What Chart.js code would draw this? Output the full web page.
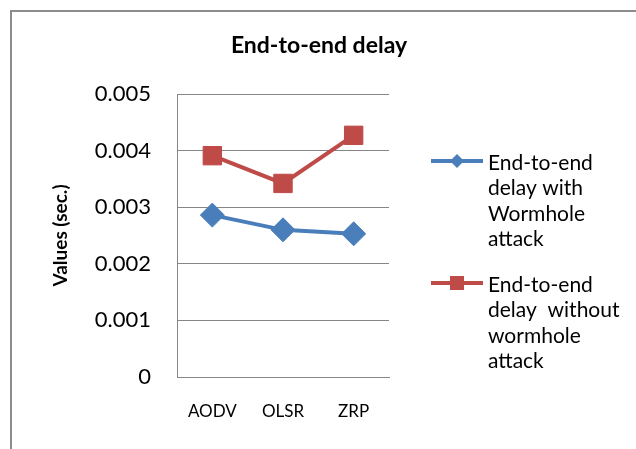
<!DOCTYPE html>
<html>
<head>
<meta charset="utf-8">
<script src="https://cdn.jsdelivr.net/npm/chart.js@4/dist/chart.umd.min.js"></script>
<style>
  html, body { margin: 0; padding: 0; background: #fff; }
  #wrap { width: 636px; height: 449px; position: relative; }
</style>
</head>
<body>
<div id="wrap"><canvas id="delayChart" width="636" height="449"></canvas></div>
<script>
const categories = ['AODV', 'OLSR', 'ZRP'];
const withWormhole = [0.00286, 0.00260, 0.00253];
const withoutWormhole = [0.00391, 0.00342, 0.00427];
const yTicks = [0, 0.001, 0.002, 0.003, 0.004, 0.005];

const legendLabels = [
  ['End-to-end', 'delay with', 'Wormhole', 'attack'],
  ['End-to-end', 'delay  without', 'wormhole', 'attack']
];

const FONT = 'Lato, Carlito, Calibri, sans-serif';
const blue = '#4a7ebb';
const red = '#be4b48';

// frame, title and the right-hand legend
const extras = {
  id: 'extras',
  beforeDraw(chart) {
    const ctx = chart.ctx;
    ctx.save();
    ctx.strokeStyle = '#8c8c8c';
    ctx.lineWidth = 2;
    ctx.beginPath();
    ctx.moveTo(11, 449);
    ctx.lineTo(11, 11);
    ctx.lineTo(636, 11);
    ctx.stroke();
    ctx.restore();
  },
  afterDraw(chart) {
    const ctx = chart.ctx;
    ctx.save();
    ctx.fillStyle = '#000';
    ctx.font = 'bold 23px ' + FONT;
    ctx.textAlign = 'center';
    ctx.textBaseline = 'middle';
    ctx.fillText('End-to-end delay', 319, 46);

    const starts = [161, 283];
    chart.data.datasets.forEach((ds, i) => {
      const y = starts[i];
      ctx.strokeStyle = ds.borderColor;
      ctx.lineWidth = 4;
      ctx.beginPath();
      ctx.moveTo(431, y);
      ctx.lineTo(483, y);
      ctx.stroke();
      ctx.fillStyle = ds.backgroundColor;
      ctx.beginPath();
      if (ds.pointStyle === 'rect') {
        ctx.rect(457 - 7, y - 7, 14, 14);
      } else {
        ctx.moveTo(457 - 7, y);
        ctx.lineTo(457, y - 7);
        ctx.lineTo(457 + 7, y);
        ctx.lineTo(457, y + 7);
        ctx.closePath();
      }
      ctx.fill();
      ctx.fillStyle = '#000';
      ctx.font = '21px ' + FONT;
      ctx.textAlign = 'left';
      legendLabels[i].forEach((t, k) => ctx.fillText(t, 488, y + 2 + k * 25.5));
    });
    ctx.restore();
  }
};

new Chart(document.getElementById('delayChart'), {
  type: 'line',
  data: {
    labels: categories,
    datasets: [
      {
        label: 'End-to-end delay with Wormhole attack',
        data: withWormhole,
        borderColor: blue,
        backgroundColor: blue,
        borderWidth: 4,
        pointStyle: 'rectRot',
        pointRadius: 12,
        pointBorderWidth: 1,
        tension: 0
      },
      {
        label: 'End-to-end delay without wormhole attack',
        data: withoutWormhole,
        borderColor: red,
        backgroundColor: red,
        borderWidth: 4,
        pointStyle: 'rect',
        pointRadius: 13,
        pointBorderWidth: 1,
        tension: 0
      }
    ]
  },
  options: {
    responsive: false,
    animation: false,
    events: [],
    layout: { padding: { top: 94, right: 247, left: 0, bottom: 0 } },
    plugins: {
      legend: { display: false },
      title: { display: false },
      tooltip: { enabled: false }
    },
    scales: {
      x: {
        offset: true,
        grid: { display: false, drawTicks: false },
        border: { display: true, color: '#868686', width: 1 },
        ticks: { color: '#000', padding: 24, font: { family: FONT, size: 17 } },
        afterFit: s => { s.height = 72; }
      },
      y: {
        min: 0,
        max: 0.005,
        afterBuildTicks: s => { s.ticks = yTicks.map(v => ({ value: v })); },
        grid: { color: '#868686', lineWidth: 1, drawTicks: false },
        border: { display: true, color: '#868686', width: 1 },
        ticks: {
          color: '#000',
          padding: 26,
          font: { family: FONT, size: 22 },
          callback: v => v === 0 ? '0' : v.toFixed(3)
        },
        title: {
          display: true,
          text: 'Values (sec.)',
          color: '#000',
          font: { family: FONT, size: 19, weight: 'bold' },
          padding: { top: 49, bottom: 0 }
        },
        afterFit: s => { s.width = 177; }
      }
    }
  },
  plugins: [extras]
});
</script>
</body>
</html>
